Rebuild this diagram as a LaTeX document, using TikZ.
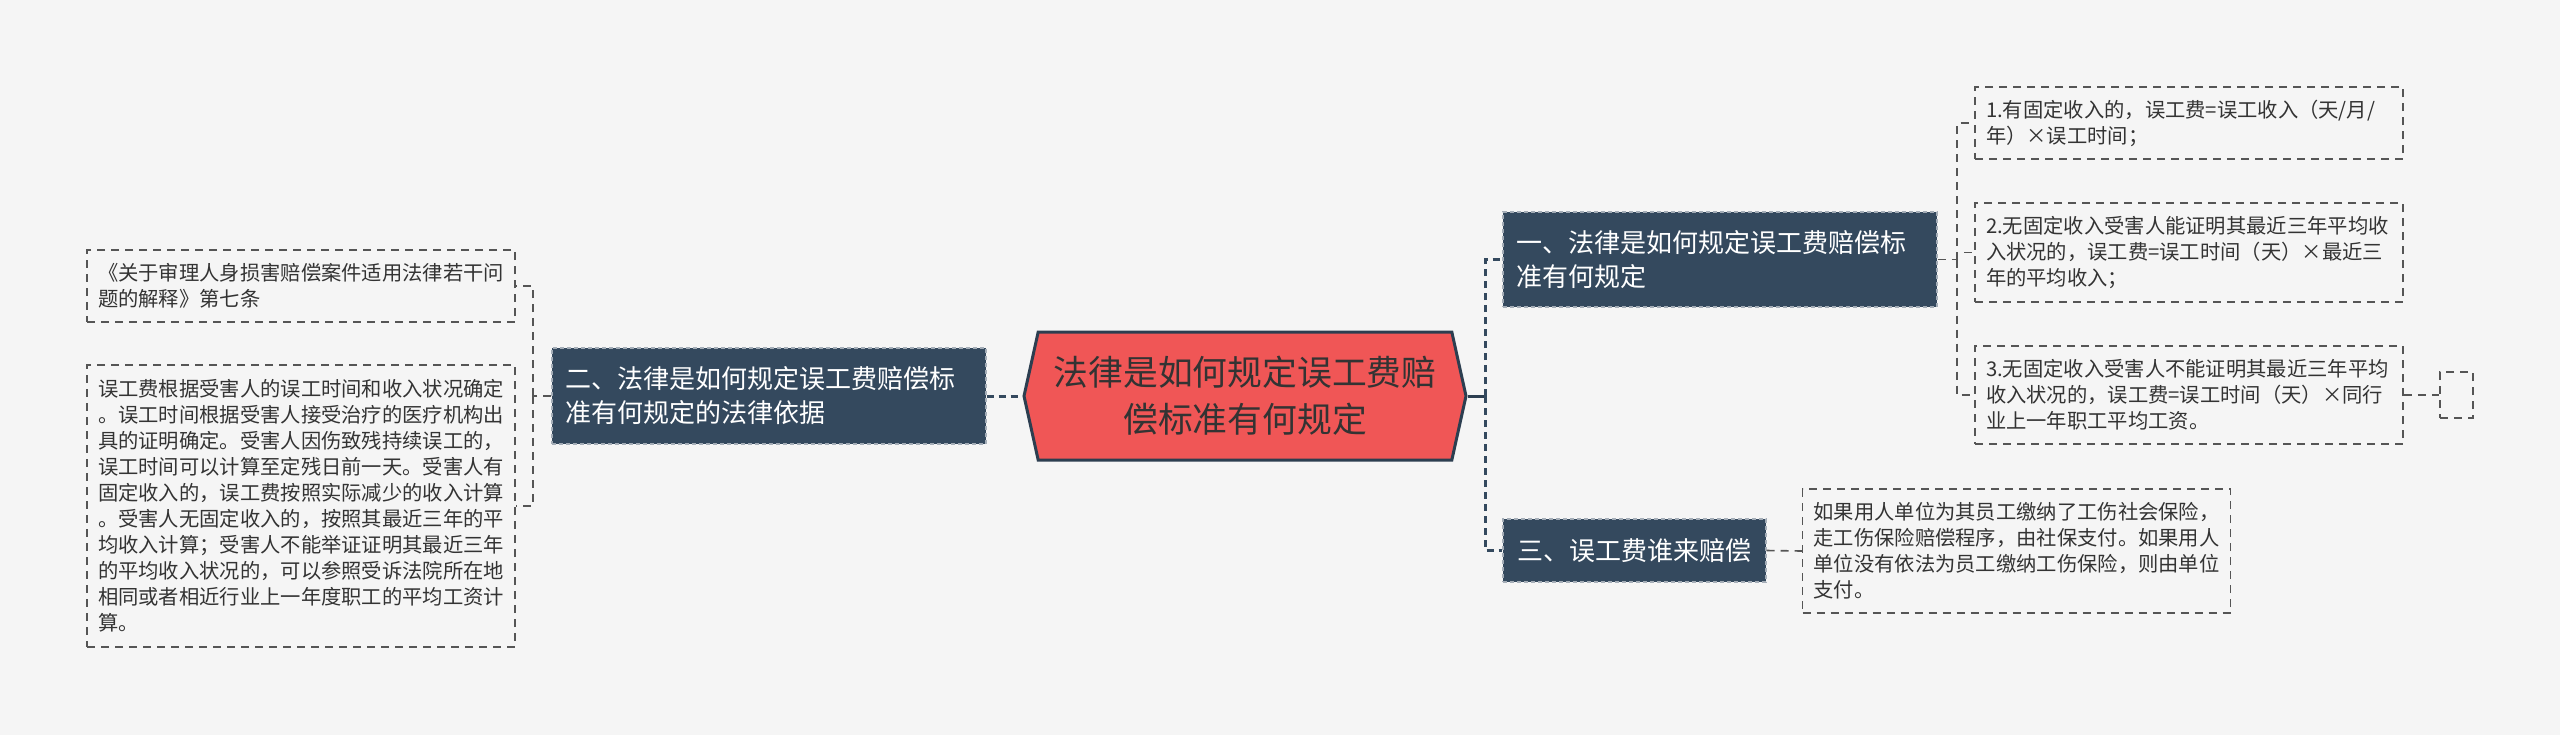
\documentclass[tikz,border=0pt]{standalone}
\usepackage{fontspec}
\setmainfont{Noto Sans CJK SC}
\usepackage{xcolor}
\usetikzlibrary{shapes.symbols}
\definecolor{paper}{HTML}{F5F5F5}
\definecolor{rootred}{HTML}{F05656}
\definecolor{navy}{HTML}{34495E}
\definecolor{inkline}{HTML}{2C3E50}
\definecolor{inktext}{HTML}{333333}
\definecolor{edgegray}{HTML}{555555}
\tikzset{
  rootbox/.style={
    signal,
    signal to=west and east,
    signal pointer angle=155,
    draw=inkline,
    fill=rootred,
    line width=1.5pt,
    minimum width=221pt,
    minimum height=64pt,
    inner sep=0pt,
    align=center,
    text=inktext,
    font=\fontsize{17.4}{23.5}\selectfont
  },
  branch/.style={
    draw=navy!45!white,
    dash pattern=on 2pt off 1.5pt,
    line width=0.6pt,
    fill=navy,
    text=white,
    align=left,
    inner xsep=6.5pt,
    inner ysep=2pt,
    font=\fontsize{13}{17}\selectfont
  },
  dashbox/.style={
    draw=edgegray,
    dash pattern=on 4pt off 3pt,
    line width=0.75pt
  },
  leaf/.style={
    dashbox,
    text width=203pt,
    align=left,
    inner xsep=5.5pt,
    inner ysep=2pt,
    text=inktext,
    font=\fontsize{10.15}{13}\selectfont
  },
  stub/.style={dashbox, minimum width=16.5pt, minimum height=23pt, inner sep=0pt},
  rootlink/.style={draw=inkline, line width=1.5pt},
  link/.style={draw=navy, line width=1.5pt, dash pattern=on 3.5pt off 2.5pt},
  twig/.style={draw=edgegray, line width=0.8pt, dash pattern=on 4pt off 3pt}
}

\begin{document}
\begin{tikzpicture}[x=0.5pt, y=-0.5pt]
  \fill[paper] (0,0) rectangle (2560,735);

  \node[rootbox] (root) at (1245,396) {法律是如何规定误工费赔\\偿标准有何规定};

  \node[branch, text width=204pt, minimum height=47.5pt] (br1) at (1720,259.5) {一、法律是如何规定误工费赔偿标\\准有何规定};
  \node[branch, text width=204pt, minimum height=48pt] (br2) at (769,396) {二、法律是如何规定误工费赔偿标\\准有何规定的法律依据};
  \node[branch, minimum width=131.5pt, minimum height=31.5pt] (br3) at (1634.5,550.5) {三、误工费谁来赔偿};

  \node[leaf, minimum height=36pt] (lf1) at (301,286) {《关于审理人身损害赔偿案件适用法律若干问\\题的解释》第七条};
  \node[leaf, minimum height=141pt] (lf2) at (301,506) {误工费根据受害人的误工时间和收入状况确定\\。误工时间根据受害人接受治疗的医疗机构出\\具的证明确定。受害人因伤致残持续误工的，\\误工时间可以计算至定残日前一天。受害人有\\固定收入的，误工费按照实际减少的收入计算\\。受害人无固定收入的，按照其最近三年的平\\均收入计算；受害人不能举证证明其最近三年\\的平均收入状况的，可以参照受诉法院所在地\\相同或者相近行业上一年度职工的平均工资计\\算。};

  \node[leaf, minimum height=36pt] (lfa) at (2189,123) {1.有固定收入的，误工费=误工收入（天/月/\\年）×误工时间；};
  \node[leaf, minimum height=49.5pt] (lfb) at (2189,252.5) {2.无固定收入受害人能证明其最近三年平均收\\入状况的，误工费=误工时间（天）×最近三\\年的平均收入；};
  \node[leaf, minimum height=49pt] (lfc) at (2189,395) {3.无固定收入受害人不能证明其最近三年平均\\收入状况的，误工费=误工时间（天）×同行\\业上一年职工平均工资。};
  \node[stub] (lfe) at (2456.5,395) {};
  \node[leaf, minimum height=62pt] (lfd) at (2016.5,551) {如果用人单位为其员工缴纳了工伤社会保险，\\走工伤保险赔偿程序，由社保支付。如果用人\\单位没有依法为员工缴纳工伤保险，则由单位\\支付。};

  \coordinate (rj) at (1485,396);
  \coordinate (lj) at (533,396);
  \coordinate (j1) at (1957,259.5);

  \draw[rootlink] (root.east) -- (rj);
  \draw[link] (rj) |- (br1.west);
  \draw[link] (rj) |- (br3.west);
  \draw[link] (br2.east) -- (root.west);

  \draw[twig] (br2.west) -- (lj);
  \draw[twig] (lj) |- (lf1.east);
  \draw[twig] (lj) |- (lf2.east);

  \draw[twig] (br1.east) -- (j1);
  \draw[twig] (j1) |- (lfa.west);
  \draw[twig] (j1) |- (lfb.west);
  \draw[twig] (j1) |- (lfc.west);
  \draw[twig] (lfc.east) -- (lfe.west);
  \draw[twig] (br3.east) -- (lfd.west);
\end{tikzpicture}
\end{document}
